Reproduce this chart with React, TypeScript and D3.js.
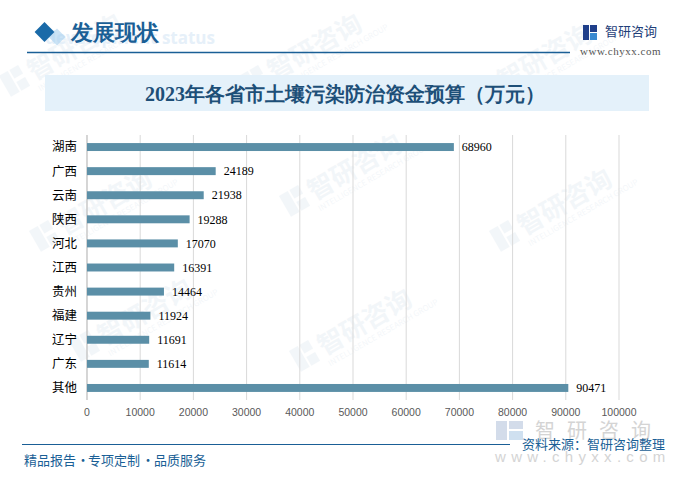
import React from "react";
import * as d3 from "d3";

const categories = ["湖南", "广西", "云南", "陕西", "河北", "江西", "贵州", "福建", "辽宁", "广东", "其他"];
const values = [68960, 24189, 21938, 19288, 17070, 16391, 14464, 11924, 11691, 11614, 90471];
const xTicks = [0, 10000, 20000, 30000, 40000, 50000, 60000, 70000, 80000, 90000, 100000];

const W = 687;
const H = 484;
const CJK = "'Noto Sans CJK SC', 'Noto Sans', sans-serif";
const SERIF = "'Liberation Serif', 'DejaVu Serif', serif";
const BLUE = "#1a5f96";

export default function App() {
  const x = d3.scaleLinear().domain([0, 100000]).range([87, 619]);
  const y = d3.scaleBand<string>().domain(categories).range([135, 400]).paddingInner(0.67).paddingOuter(0.335);

  const wm = (tx: number, ty: number, key: string) => (
    <g key={key} transform={`translate(${tx},${ty}) rotate(-30)`} opacity={0.05} fill="#1a5f96">
      <rect x={0} y={-22} width={10} height={24} />
      <rect x={12} y={-22} width={10} height={10} />
      <rect x={12} y={-8} width={10} height={10} />
      <text x={28} y={0} fontSize={26} fontFamily={CJK} fontWeight="bold">智研咨询</text>
      <text x={28} y={12} fontSize={8} fontFamily={CJK}>INTELLIGENCE RESEARCH GROUP</text>
    </g>
  );

  return (
    <svg width={W} height={H} style={{ position: "absolute", left: 0, top: 0, background: "#fff" }}>
      <rect x={0} y={0} width={W} height={H} fill="#fff" />
      {/* watermarks */}
      {wm(10, 95, "w1")}
      {wm(250, 95, "w2")}
      {wm(480, 105, "w3")}
      {wm(40, 250, "w4")}
      {wm(290, 215, "w5")}
      {wm(500, 250, "w6")}
      {wm(80, 360, "w7")}
      {wm(300, 370, "w8")}

      {/* header */}
      <text x={215} y={44} textAnchor="end" fontSize={17} fontFamily="'Open Sans', sans-serif" fontWeight="bold" fill="#e6f0f9">development status</text>
      <rect x={51} y={31} width={12} height={12} fill="#a8d0ee" opacity={0.6} transform="rotate(45 57 37)" />
      <rect x={37.5} y={25} width={14} height={14} fill="#1a6aa8" transform="rotate(45 44.5 32)" />
      <text x={71} y={40} fontSize={22} fontFamily={SERIF} fontWeight="bold" fill={BLUE}>发展现状</text>
      <line x1={27} x2={570} y1={52.5} y2={52.5} stroke={BLUE} strokeWidth={1.5} />
      <g>
        <rect x={583} y={25} width={6} height={15} fill="#1f3f8a" />
        <rect x={590} y={25} width={7} height={7} fill="#1f3f8a" />
        <rect x={590} y={33} width={7} height={7} fill="#3a8ad0" />
        <text x={605} y={36} fontSize={13} fontFamily={CJK} fill="#1f3f7a">智研咨询</text>
        <text x={580} y={55} fontSize={11} letterSpacing={0.5} fontFamily={SERIF} fill="#555">www.chyxx.com</text>
      </g>

      {/* title box */}
      <rect x={45} y={75} width={604} height={36} fill="#e4f1fa" />
      <text x={345} y={101} textAnchor="middle" fontSize={20} fontFamily={SERIF} fontWeight="bold" fill="#1d4f78">
        2023年各省市土壤污染防治资金预算（万元）
      </text>

      {/* grid */}
      {xTicks.map((t) => (
        <line key={"g" + t} x1={x(t)} x2={x(t)} y1={135} y2={400} stroke="#d9d9d9" strokeWidth={1} />
      ))}
      <line x1={x(0)} x2={x(0)} y1={135} y2={400} stroke="#bfbfbf" strokeWidth={1} />

      {/* bars */}
      {categories.map((c, i) => (
        <g key={c}>
          <rect x={x(0)} y={y(c)!} width={x(values[i]) - x(0)} height={y.bandwidth()} fill="#5b8fa7" />
          <text x={x(values[i]) + 8} y={y(c)! + y.bandwidth() / 2} dy="0.35em" fontSize={12} fontFamily={SERIF} fill="#000">
            {values[i]}
          </text>
          <text x={77} y={y(c)! + y.bandwidth() / 2} dy="0.35em" textAnchor="end" fontSize={12.5} fontFamily={CJK} fill="#000">
            {c}
          </text>
        </g>
      ))}

      {/* x axis labels */}
      {xTicks.map((t) => (
        <text key={"t" + t} x={x(t)} y={416} textAnchor="middle" fontSize={10.5} fontFamily="'Liberation Sans', Arial, sans-serif" fill="#595959">
          {t}
        </text>
      ))}

      {/* footer watermark */}
      <g>
        <rect x={496} y={421} width={11} height={19} fill="#d3dcea" />
        <rect x={509} y={421} width={14} height={8} fill="#d3dcea" />
        <rect x={509} y={431} width={14} height={9} fill="#cfe0f0" />
        <text x={535} y={438} fontSize={20} letterSpacing={12} fontFamily={CJK} fill="#d4d4d4">智研咨询</text>
        <text x={495} y={462} fontSize={15} fontFamily="'Liberation Sans', sans-serif" fill="#d4d4d4" letterSpacing={5.3}>www.chyxx.com</text>
      </g>
      <line x1={22} x2={510} y1={444.5} y2={444.5} stroke={BLUE} strokeWidth={1.2} />
      <text x={522} y={449} fontSize={13} fontFamily={CJK} fill={BLUE}>资料来源：智研咨询整理</text>
      <text x={24} y={465} fontSize={13} fontFamily={CJK} fill={BLUE}>精品报告</text>
      <text x={83} y={465} textAnchor="middle" fontSize={13} fontFamily={CJK} fill={BLUE}>·</text>
      <text x={88} y={465} fontSize={13} fontFamily={CJK} fill={BLUE}>专项定制</text>
      <text x={148} y={465} textAnchor="middle" fontSize={13} fontFamily={CJK} fill={BLUE}>·</text>
      <text x={154} y={465} fontSize={13} fontFamily={CJK} fill={BLUE}>品质服务</text>
    </svg>
  );
}
